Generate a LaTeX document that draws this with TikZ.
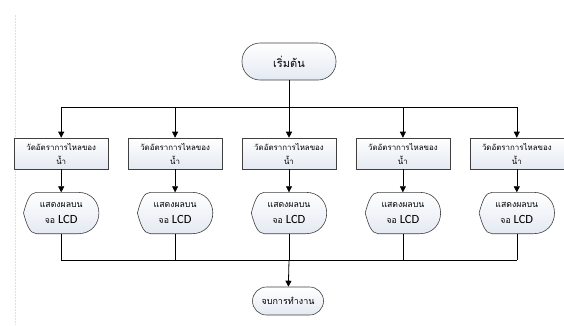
\documentclass[tikz,border=0pt]{standalone}
\usepackage{fontspec}
\setmainfont[Script=Thai]{Loma}
\newfontfamily\latinfont{Carlito}
\usetikzlibrary{arrows.meta,positioning}
\definecolor{boxfill}{HTML}{E4E9F2}

% outline of a display symbol drawn round a named node
\newcommand\dispoutline[1]{%
  \draw[top color=white, bottom color=boxfill, draw=black!75, line width=0.6pt]
    (#1.west) .. controls ([xshift=3pt,yshift=11pt]#1.west) and ([xshift=6pt]#1.north west)
    .. ([xshift=13pt]#1.north west) -- ([xshift=-21pt]#1.north east)
    .. controls ([xshift=7pt]#1.north east) and ([xshift=7pt]#1.south east) .. ([xshift=-21pt]#1.south east)
    -- ([xshift=13pt]#1.south west)
    .. controls ([xshift=6pt]#1.south west) and ([xshift=3pt,yshift=-11pt]#1.west) .. (#1.west);}
\newcommand\lcd{{\latinfont\fontsize{12.5}{16}\selectfont LCD}}

\begin{document}
\begin{tikzpicture}[x=1pt, y=-1pt, node distance=23pt and 19.3pt,
    term/.style={draw=black!75, line width=0.6pt, top color=white, bottom color=boxfill, align=center},
    proc/.style={draw=black!75, line width=0.6pt, top color=white, bottom color=boxfill,
      align=center, font=\fontsize{7.9}{14}\selectfont, minimum width=94pt,
      minimum height=31pt, inner sep=1pt},
    disp/.style={align=center, font=\fontsize{8.7}{16}\selectfont, minimum width=75pt,
      minimum height=41pt, inner sep=0pt},
    >={Triangle[length=6pt,width=6pt]}]
  \useasboundingbox (0,0) rectangle (564,325);
  \draw[black!12, dash pattern=on 2pt off 1pt] (15,15) -- (15,325);

  \node[term, minimum width=94pt, minimum height=37pt, rounded corners=18pt,
    font=\fontsize{11}{13}\selectfont] (start) at (289,61.5) {เริ่มต้น};
  \coordinate (bustop) at (289,107);

  \node[proc] (m3) at (289,153.5) {วัดอัตราการไหลของ\\น้ำ};
  \node[proc, left=of m3] (m2) {วัดอัตราการไหลของ\\น้ำ};
  \node[proc, left=of m2] (m1) {วัดอัตราการไหลของ\\น้ำ};
  \node[proc, right=of m3] (m4) {วัดอัตราการไหลของ\\น้ำ};
  \node[proc, right=of m4] (m5) {วัดอัตราการไหลของ\\น้ำ};

  \node[disp, below=of m1] (d1) {};
  \node[disp, below=of m2] (d2) {};
  \node[disp, below=of m3] (d3) {};
  \node[disp, below=of m4] (d4) {};
  \node[disp, below=of m5] (d5) {};
  \dispoutline{d1} \dispoutline{d2} \dispoutline{d3} \dispoutline{d4} \dispoutline{d5}
  \node[disp] at (d1) {แสดงผลบน\\จอ \lcd};
  \node[disp] at (d2) {แสดงผลบน\\จอ \lcd};
  \node[disp] at (d3) {แสดงผลบน\\จอ \lcd};
  \node[disp] at (d4) {แสดงผลบน\\จอ \lcd};
  \node[disp] at (d5) {แสดงผลบน\\จอ \lcd};

  \coordinate (busbot) at (289,260);
  \node[term, minimum width=71pt, minimum height=28pt, rounded corners=14pt,
    font=\fontsize{9}{10}\selectfont] (end) at (288,301) {จบการทำงาน};

  \draw[line width=0.8pt] (start) -- ([yshift=-1pt]bustop);
  \draw[line width=0.6pt] (m1 |- bustop) -- (m5 |- bustop);
  \draw[->, line width=0.6pt] (m1 |- bustop) -- (m1); \draw[->, line width=0.6pt] (m2 |- bustop) -- (m2);
  \draw[->, line width=0.6pt] (bustop) -- (m3); \draw[->, line width=0.6pt] (m4 |- bustop) -- (m4);
  \draw[->, line width=0.6pt] (m5 |- bustop) -- (m5);
  \draw[->, line width=0.6pt] (m1) -- (d1); \draw[->, line width=0.6pt] (m2) -- (d2);
  \draw[->, line width=0.6pt] (m3) -- (d3); \draw[->, line width=0.6pt] (m4) -- (d4);
  \draw[->, line width=0.6pt] (m5) -- (d5);
  \draw[line width=0.6pt] (d1) -- (d1 |- busbot); \draw[line width=0.6pt] (d2) -- (d2 |- busbot);
  \draw[line width=0.6pt] (d3) -- (busbot); \draw[line width=0.6pt] (d4) -- (d4 |- busbot);
  \draw[line width=0.6pt] (d5) -- (d5 |- busbot);
  \draw[line width=0.6pt] (d1 |- busbot) -- (d5 |- busbot);
  \draw[->, line width=0.8pt] (busbot) -- (end);
\end{tikzpicture}
\end{document}
